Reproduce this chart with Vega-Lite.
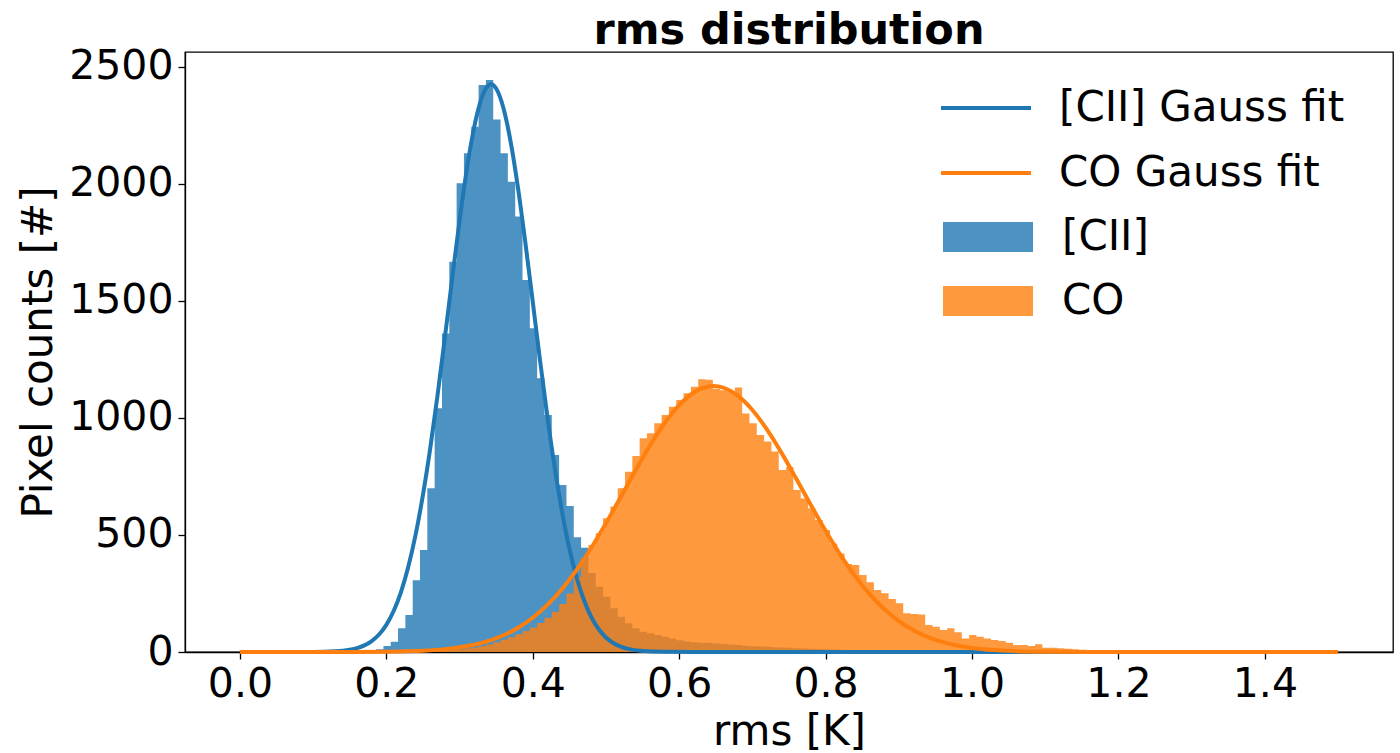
{
  "$schema": "https://vega.github.io/schema/vega-lite/v6.json",
  "width": 1208,
  "height": 600,
  "autosize": {"type": "none"},
  "padding": {"left": 185, "top": 52, "right": 7, "bottom": 101},
  "background": "white",
  "config": {
    "font": "DejaVu Sans",
    "view": {"stroke": "black", "strokeWidth": 1.3},
    "axis": {
      "grid": false,
      "domainColor": "black",
      "domainWidth": 1.3,
      "tickColor": "black",
      "tickWidth": 1.3,
      "tickSize": 7,
      "labelColor": "black",
      "labelFontSize": 41,
      "labelPadding": 5,
      "titleColor": "black",
      "titleFontSize": 42,
      "titleFontWeight": "normal"
    },
    "legend": {"padding": 0, "labelColor": "black", "labelFontSize": 42, "labelLimit": 600}
  },
  "title": {
    "text": "rms distribution",
    "fontSize": 43,
    "fontWeight": "bold",
    "color": "black",
    "anchor": "middle",
    "frame": "group",
    "baseline": "alphabetic",
    "offset": 0,
    "dy": 41
  },
  "datasets": {
    "hist": [
      {"series": "[CII]", "x0": 0.146, "count": 1},
      {"series": "[CII]", "x0": 0.156, "count": 1},
      {"series": "[CII]", "x0": 0.166, "count": 2},
      {"series": "[CII]", "x0": 0.176, "count": 5},
      {"series": "[CII]", "x0": 0.186, "count": 12},
      {"series": "[CII]", "x0": 0.196, "count": 26},
      {"series": "[CII]", "x0": 0.206, "count": 44},
      {"series": "[CII]", "x0": 0.216, "count": 101},
      {"series": "[CII]", "x0": 0.226, "count": 158},
      {"series": "[CII]", "x0": 0.236, "count": 307},
      {"series": "[CII]", "x0": 0.246, "count": 436},
      {"series": "[CII]", "x0": 0.256, "count": 699},
      {"series": "[CII]", "x0": 0.266, "count": 1041},
      {"series": "[CII]", "x0": 0.276, "count": 1361},
      {"series": "[CII]", "x0": 0.286, "count": 1667},
      {"series": "[CII]", "x0": 0.296, "count": 2002},
      {"series": "[CII]", "x0": 0.306, "count": 2130},
      {"series": "[CII]", "x0": 0.316, "count": 2244},
      {"series": "[CII]", "x0": 0.326, "count": 2422},
      {"series": "[CII]", "x0": 0.336, "count": 2443},
      {"series": "[CII]", "x0": 0.346, "count": 2275},
      {"series": "[CII]", "x0": 0.356, "count": 2130},
      {"series": "[CII]", "x0": 0.366, "count": 2009},
      {"series": "[CII]", "x0": 0.376, "count": 1860},
      {"series": "[CII]", "x0": 0.386, "count": 1589},
      {"series": "[CII]", "x0": 0.396, "count": 1383},
      {"series": "[CII]", "x0": 0.406, "count": 1169},
      {"series": "[CII]", "x0": 0.416, "count": 1012},
      {"series": "[CII]", "x0": 0.426, "count": 841},
      {"series": "[CII]", "x0": 0.436, "count": 713},
      {"series": "[CII]", "x0": 0.446, "count": 624},
      {"series": "[CII]", "x0": 0.456, "count": 490},
      {"series": "[CII]", "x0": 0.466, "count": 445},
      {"series": "[CII]", "x0": 0.476, "count": 337},
      {"series": "[CII]", "x0": 0.486, "count": 279},
      {"series": "[CII]", "x0": 0.496, "count": 236},
      {"series": "[CII]", "x0": 0.506, "count": 187},
      {"series": "[CII]", "x0": 0.516, "count": 151},
      {"series": "[CII]", "x0": 0.526, "count": 123},
      {"series": "[CII]", "x0": 0.536, "count": 101},
      {"series": "[CII]", "x0": 0.546, "count": 87},
      {"series": "[CII]", "x0": 0.556, "count": 80},
      {"series": "[CII]", "x0": 0.566, "count": 73},
      {"series": "[CII]", "x0": 0.576, "count": 65},
      {"series": "[CII]", "x0": 0.586, "count": 58},
      {"series": "[CII]", "x0": 0.596, "count": 50},
      {"series": "[CII]", "x0": 0.606, "count": 45},
      {"series": "[CII]", "x0": 0.616, "count": 42},
      {"series": "[CII]", "x0": 0.626, "count": 40},
      {"series": "[CII]", "x0": 0.636, "count": 38},
      {"series": "[CII]", "x0": 0.646, "count": 36},
      {"series": "[CII]", "x0": 0.656, "count": 34},
      {"series": "[CII]", "x0": 0.666, "count": 32},
      {"series": "[CII]", "x0": 0.676, "count": 30},
      {"series": "[CII]", "x0": 0.686, "count": 27},
      {"series": "[CII]", "x0": 0.696, "count": 25},
      {"series": "[CII]", "x0": 0.706, "count": 23},
      {"series": "[CII]", "x0": 0.716, "count": 22},
      {"series": "[CII]", "x0": 0.726, "count": 20},
      {"series": "[CII]", "x0": 0.736, "count": 19},
      {"series": "[CII]", "x0": 0.746, "count": 18},
      {"series": "[CII]", "x0": 0.756, "count": 16},
      {"series": "[CII]", "x0": 0.766, "count": 15},
      {"series": "[CII]", "x0": 0.776, "count": 14},
      {"series": "[CII]", "x0": 0.786, "count": 13},
      {"series": "[CII]", "x0": 0.796, "count": 12},
      {"series": "[CII]", "x0": 0.806, "count": 11},
      {"series": "[CII]", "x0": 0.816, "count": 10},
      {"series": "[CII]", "x0": 0.826, "count": 9},
      {"series": "[CII]", "x0": 0.836, "count": 9},
      {"series": "[CII]", "x0": 0.846, "count": 8},
      {"series": "[CII]", "x0": 0.856, "count": 7},
      {"series": "[CII]", "x0": 0.866, "count": 7},
      {"series": "[CII]", "x0": 0.876, "count": 6},
      {"series": "[CII]", "x0": 0.886, "count": 5},
      {"series": "[CII]", "x0": 0.896, "count": 5},
      {"series": "[CII]", "x0": 0.906, "count": 4},
      {"series": "[CII]", "x0": 0.916, "count": 4},
      {"series": "[CII]", "x0": 0.926, "count": 3},
      {"series": "[CII]", "x0": 0.936, "count": 3},
      {"series": "[CII]", "x0": 0.946, "count": 2},
      {"series": "[CII]", "x0": 0.956, "count": 2},
      {"series": "[CII]", "x0": 0.966, "count": 2},
      {"series": "[CII]", "x0": 0.976, "count": 1},
      {"series": "[CII]", "x0": 0.986, "count": 1},
      {"series": "[CII]", "x0": 0.996, "count": 1},
      {"series": "[CII]", "x0": 1.006, "count": 0},
      {"series": "CO", "x0": 0.206, "count": 1},
      {"series": "CO", "x0": 0.216, "count": 1},
      {"series": "CO", "x0": 0.226, "count": 2},
      {"series": "CO", "x0": 0.236, "count": 2},
      {"series": "CO", "x0": 0.246, "count": 3},
      {"series": "CO", "x0": 0.256, "count": 4},
      {"series": "CO", "x0": 0.266, "count": 5},
      {"series": "CO", "x0": 0.276, "count": 7},
      {"series": "CO", "x0": 0.286, "count": 9},
      {"series": "CO", "x0": 0.296, "count": 12},
      {"series": "CO", "x0": 0.306, "count": 15},
      {"series": "CO", "x0": 0.316, "count": 19},
      {"series": "CO", "x0": 0.326, "count": 25},
      {"series": "CO", "x0": 0.336, "count": 32},
      {"series": "CO", "x0": 0.346, "count": 42},
      {"series": "CO", "x0": 0.356, "count": 52},
      {"series": "CO", "x0": 0.366, "count": 63},
      {"series": "CO", "x0": 0.376, "count": 76},
      {"series": "CO", "x0": 0.386, "count": 90},
      {"series": "CO", "x0": 0.396, "count": 105},
      {"series": "CO", "x0": 0.406, "count": 124},
      {"series": "CO", "x0": 0.416, "count": 146},
      {"series": "CO", "x0": 0.426, "count": 172},
      {"series": "CO", "x0": 0.436, "count": 205},
      {"series": "CO", "x0": 0.446, "count": 250},
      {"series": "CO", "x0": 0.456, "count": 320},
      {"series": "CO", "x0": 0.466, "count": 400},
      {"series": "CO", "x0": 0.476, "count": 457},
      {"series": "CO", "x0": 0.486, "count": 507},
      {"series": "CO", "x0": 0.496, "count": 571},
      {"series": "CO", "x0": 0.506, "count": 621},
      {"series": "CO", "x0": 0.516, "count": 699},
      {"series": "CO", "x0": 0.526, "count": 770},
      {"series": "CO", "x0": 0.536, "count": 837},
      {"series": "CO", "x0": 0.546, "count": 913},
      {"series": "CO", "x0": 0.556, "count": 934},
      {"series": "CO", "x0": 0.566, "count": 977},
      {"series": "CO", "x0": 0.576, "count": 1012},
      {"series": "CO", "x0": 0.586, "count": 1048},
      {"series": "CO", "x0": 0.596, "count": 1076},
      {"series": "CO", "x0": 0.606, "count": 1105},
      {"series": "CO", "x0": 0.616, "count": 1133},
      {"series": "CO", "x0": 0.626, "count": 1165},
      {"series": "CO", "x0": 0.636, "count": 1163},
      {"series": "CO", "x0": 0.646, "count": 1125},
      {"series": "CO", "x0": 0.656, "count": 1118},
      {"series": "CO", "x0": 0.666, "count": 1112},
      {"series": "CO", "x0": 0.676, "count": 1130},
      {"series": "CO", "x0": 0.686, "count": 1019},
      {"series": "CO", "x0": 0.696, "count": 977},
      {"series": "CO", "x0": 0.706, "count": 927},
      {"series": "CO", "x0": 0.716, "count": 899},
      {"series": "CO", "x0": 0.726, "count": 856},
      {"series": "CO", "x0": 0.736, "count": 777},
      {"series": "CO", "x0": 0.746, "count": 790},
      {"series": "CO", "x0": 0.756, "count": 692},
      {"series": "CO", "x0": 0.766, "count": 656},
      {"series": "CO", "x0": 0.776, "count": 614},
      {"series": "CO", "x0": 0.786, "count": 564},
      {"series": "CO", "x0": 0.796, "count": 521},
      {"series": "CO", "x0": 0.806, "count": 464},
      {"series": "CO", "x0": 0.816, "count": 421},
      {"series": "CO", "x0": 0.826, "count": 376},
      {"series": "CO", "x0": 0.836, "count": 372},
      {"series": "CO", "x0": 0.846, "count": 329},
      {"series": "CO", "x0": 0.856, "count": 298},
      {"series": "CO", "x0": 0.866, "count": 265},
      {"series": "CO", "x0": 0.876, "count": 251},
      {"series": "CO", "x0": 0.886, "count": 226},
      {"series": "CO", "x0": 0.896, "count": 208},
      {"series": "CO", "x0": 0.906, "count": 165},
      {"series": "CO", "x0": 0.916, "count": 162},
      {"series": "CO", "x0": 0.926, "count": 160},
      {"series": "CO", "x0": 0.936, "count": 115},
      {"series": "CO", "x0": 0.946, "count": 108},
      {"series": "CO", "x0": 0.956, "count": 94},
      {"series": "CO", "x0": 0.966, "count": 101},
      {"series": "CO", "x0": 0.976, "count": 84},
      {"series": "CO", "x0": 0.986, "count": 58},
      {"series": "CO", "x0": 0.996, "count": 73},
      {"series": "CO", "x0": 1.006, "count": 65},
      {"series": "CO", "x0": 1.016, "count": 58},
      {"series": "CO", "x0": 1.026, "count": 51},
      {"series": "CO", "x0": 1.036, "count": 47},
      {"series": "CO", "x0": 1.046, "count": 40},
      {"series": "CO", "x0": 1.056, "count": 30},
      {"series": "CO", "x0": 1.066, "count": 30},
      {"series": "CO", "x0": 1.076, "count": 26},
      {"series": "CO", "x0": 1.086, "count": 33},
      {"series": "CO", "x0": 1.096, "count": 18},
      {"series": "CO", "x0": 1.106, "count": 18},
      {"series": "CO", "x0": 1.116, "count": 16},
      {"series": "CO", "x0": 1.126, "count": 14},
      {"series": "CO", "x0": 1.136, "count": 12},
      {"series": "CO", "x0": 1.146, "count": 10},
      {"series": "CO", "x0": 1.156, "count": 9},
      {"series": "CO", "x0": 1.166, "count": 8},
      {"series": "CO", "x0": 1.176, "count": 7},
      {"series": "CO", "x0": 1.186, "count": 6},
      {"series": "CO", "x0": 1.196, "count": 5},
      {"series": "CO", "x0": 1.206, "count": 5},
      {"series": "CO", "x0": 1.216, "count": 4},
      {"series": "CO", "x0": 1.226, "count": 4},
      {"series": "CO", "x0": 1.236, "count": 3},
      {"series": "CO", "x0": 1.246, "count": 3},
      {"series": "CO", "x0": 1.256, "count": 3},
      {"series": "CO", "x0": 1.266, "count": 2},
      {"series": "CO", "x0": 1.276, "count": 2},
      {"series": "CO", "x0": 1.286, "count": 2},
      {"series": "CO", "x0": 1.296, "count": 2},
      {"series": "CO", "x0": 1.306, "count": 1},
      {"series": "CO", "x0": 1.316, "count": 1},
      {"series": "CO", "x0": 1.326, "count": 1},
      {"series": "CO", "x0": 1.336, "count": 1},
      {"series": "CO", "x0": 1.346, "count": 1},
      {"series": "CO", "x0": 1.356, "count": 0},
      {"series": "CO", "x0": 1.376, "count": 1},
      {"series": "CO", "x0": 1.386, "count": 0},
      {"series": "CO", "x0": 1.406, "count": 1},
      {"series": "CO", "x0": 1.416, "count": 0}
    ],
    "fit": [
      {"series": "[CII] Gauss fit", "rms": 0.0, "count": 0},
      {"series": "[CII] Gauss fit", "rms": 0.1, "count": 0.4},
      {"series": "[CII] Gauss fit", "rms": 0.13, "count": 2.9},
      {"series": "[CII] Gauss fit", "rms": 0.15, "count": 9.6},
      {"series": "[CII] Gauss fit", "rms": 0.16, "count": 16.7},
      {"series": "[CII] Gauss fit", "rms": 0.17, "count": 28.4},
      {"series": "[CII] Gauss fit", "rms": 0.18, "count": 46.7},
      {"series": "[CII] Gauss fit", "rms": 0.19, "count": 74.8},
      {"series": "[CII] Gauss fit", "rms": 0.2, "count": 116},
      {"series": "[CII] Gauss fit", "rms": 0.21, "count": 175},
      {"series": "[CII] Gauss fit", "rms": 0.22, "count": 256},
      {"series": "[CII] Gauss fit", "rms": 0.23, "count": 364},
      {"series": "[CII] Gauss fit", "rms": 0.24, "count": 501},
      {"series": "[CII] Gauss fit", "rms": 0.25, "count": 671},
      {"series": "[CII] Gauss fit", "rms": 0.26, "count": 871},
      {"series": "[CII] Gauss fit", "rms": 0.27, "count": 1098},
      {"series": "[CII] Gauss fit", "rms": 0.28, "count": 1344},
      {"series": "[CII] Gauss fit", "rms": 0.29, "count": 1597},
      {"series": "[CII] Gauss fit", "rms": 0.3, "count": 1842},
      {"series": "[CII] Gauss fit", "rms": 0.31, "count": 2063},
      {"series": "[CII] Gauss fit", "rms": 0.32, "count": 2242},
      {"series": "[CII] Gauss fit", "rms": 0.33, "count": 2365},
      {"series": "[CII] Gauss fit", "rms": 0.337, "count": 2412},
      {"series": "[CII] Gauss fit", "rms": 0.343, "count": 2425},
      {"series": "[CII] Gauss fit", "rms": 0.35, "count": 2407},
      {"series": "[CII] Gauss fit", "rms": 0.36, "count": 2323},
      {"series": "[CII] Gauss fit", "rms": 0.37, "count": 2176},
      {"series": "[CII] Gauss fit", "rms": 0.38, "count": 1979},
      {"series": "[CII] Gauss fit", "rms": 0.39, "count": 1746},
      {"series": "[CII] Gauss fit", "rms": 0.4, "count": 1496},
      {"series": "[CII] Gauss fit", "rms": 0.41, "count": 1244},
      {"series": "[CII] Gauss fit", "rms": 0.42, "count": 1005},
      {"series": "[CII] Gauss fit", "rms": 0.43, "count": 787},
      {"series": "[CII] Gauss fit", "rms": 0.44, "count": 599},
      {"series": "[CII] Gauss fit", "rms": 0.45, "count": 442},
      {"series": "[CII] Gauss fit", "rms": 0.46, "count": 317},
      {"series": "[CII] Gauss fit", "rms": 0.47, "count": 221},
      {"series": "[CII] Gauss fit", "rms": 0.48, "count": 149},
      {"series": "[CII] Gauss fit", "rms": 0.49, "count": 97.7},
      {"series": "[CII] Gauss fit", "rms": 0.5, "count": 62.2},
      {"series": "[CII] Gauss fit", "rms": 0.51, "count": 38.4},
      {"series": "[CII] Gauss fit", "rms": 0.52, "count": 23.1},
      {"series": "[CII] Gauss fit", "rms": 0.53, "count": 13.4},
      {"series": "[CII] Gauss fit", "rms": 0.55, "count": 4.2},
      {"series": "[CII] Gauss fit", "rms": 0.58, "count": 0.6},
      {"series": "[CII] Gauss fit", "rms": 0.62, "count": 0},
      {"series": "[CII] Gauss fit", "rms": 1.5, "count": 0},
      {"series": "CO Gauss fit", "rms": 0.0, "count": 0},
      {"series": "CO Gauss fit", "rms": 0.15, "count": 0.3},
      {"series": "CO Gauss fit", "rms": 0.2, "count": 1.4},
      {"series": "CO Gauss fit", "rms": 0.25, "count": 5.7},
      {"series": "CO Gauss fit", "rms": 0.28, "count": 12.3},
      {"series": "CO Gauss fit", "rms": 0.3, "count": 19.9},
      {"series": "CO Gauss fit", "rms": 0.32, "count": 31.3},
      {"series": "CO Gauss fit", "rms": 0.34, "count": 47.9},
      {"series": "CO Gauss fit", "rms": 0.36, "count": 71.4},
      {"series": "CO Gauss fit", "rms": 0.38, "count": 103.6},
      {"series": "CO Gauss fit", "rms": 0.4, "count": 146.3},
      {"series": "CO Gauss fit", "rms": 0.42, "count": 201.2},
      {"series": "CO Gauss fit", "rms": 0.44, "count": 269.4},
      {"series": "CO Gauss fit", "rms": 0.46, "count": 350.9},
      {"series": "CO Gauss fit", "rms": 0.48, "count": 445.2},
      {"series": "CO Gauss fit", "rms": 0.5, "count": 549.7},
      {"series": "CO Gauss fit", "rms": 0.52, "count": 660.8},
      {"series": "CO Gauss fit", "rms": 0.54, "count": 773.4},
      {"series": "CO Gauss fit", "rms": 0.56, "count": 881},
      {"series": "CO Gauss fit", "rms": 0.58, "count": 977},
      {"series": "CO Gauss fit", "rms": 0.6, "count": 1054.8},
      {"series": "CO Gauss fit", "rms": 0.62, "count": 1108.5},
      {"series": "CO Gauss fit", "rms": 0.64, "count": 1134},
      {"series": "CO Gauss fit", "rms": 0.647, "count": 1136},
      {"series": "CO Gauss fit", "rms": 0.66, "count": 1129.5},
      {"series": "CO Gauss fit", "rms": 0.68, "count": 1095.2},
      {"series": "CO Gauss fit", "rms": 0.7, "count": 1033.8},
      {"series": "CO Gauss fit", "rms": 0.72, "count": 949.8},
      {"series": "CO Gauss fit", "rms": 0.74, "count": 849.5},
      {"series": "CO Gauss fit", "rms": 0.76, "count": 739.8},
      {"series": "CO Gauss fit", "rms": 0.78, "count": 627.1},
      {"series": "CO Gauss fit", "rms": 0.8, "count": 517.4},
      {"series": "CO Gauss fit", "rms": 0.82, "count": 415.7},
      {"series": "CO Gauss fit", "rms": 0.84, "count": 325},
      {"series": "CO Gauss fit", "rms": 0.86, "count": 247.4},
      {"series": "CO Gauss fit", "rms": 0.88, "count": 183.4},
      {"series": "CO Gauss fit", "rms": 0.9, "count": 132.3},
      {"series": "CO Gauss fit", "rms": 0.92, "count": 92.9},
      {"series": "CO Gauss fit", "rms": 0.94, "count": 63.5},
      {"series": "CO Gauss fit", "rms": 0.96, "count": 42.3},
      {"series": "CO Gauss fit", "rms": 0.98, "count": 27.4},
      {"series": "CO Gauss fit", "rms": 1.0, "count": 17.3},
      {"series": "CO Gauss fit", "rms": 1.03, "count": 8.2},
      {"series": "CO Gauss fit", "rms": 1.06, "count": 3.7},
      {"series": "CO Gauss fit", "rms": 1.1, "count": 1.2},
      {"series": "CO Gauss fit", "rms": 1.15, "count": 0.2},
      {"series": "CO Gauss fit", "rms": 1.2, "count": 0},
      {"series": "CO Gauss fit", "rms": 1.5, "count": 0}
    ]
  },
  "layer": [
    {
      "data": {"name": "hist"},
      "mark": {"type": "area", "interpolate": "step-after", "opacity": 0.8},
      "encoding": {
        "x": {
          "field": "x0",
          "type": "quantitative",
          "scale": {"domain": [-0.075, 1.575], "nice": false, "zero": false},
          "axis": {
            "values": [0, 0.2, 0.4, 0.6, 0.8, 1.0, 1.2, 1.4],
            "format": ".1f",
            "title": "rms [K]",
            "titleBaseline": "alphabetic",
            "titleY": 92
          }
        },
        "y": {
          "field": "count",
          "type": "quantitative",
          "stack": null,
          "scale": {"domain": [0, 2563], "nice": false},
          "axis": {
            "values": [0, 500, 1000, 1500, 2000, 2500],
            "format": "d",
            "title": "Pixel counts [#]",
            "titleAngle": -90,
            "titleBaseline": "middle",
            "titleX": -147,
            "titleY": 300
          }
        },
        "fill": {
          "field": "series",
          "type": "nominal",
          "scale": {"domain": ["[CII]", "CO"], "range": ["#1f77b4", "#ff7f0e"]},
          "legend": {
            "orient": "none",
            "legendX": 782,
            "legendY": 164,
            "title": null,
            "symbolType": "M-3,-1H3V1H-3Z",
            "symbolSize": 900,
            "symbolStrokeWidth": 0,
            "symbolOpacity": 0.8,
            "labelOffset": 53,
            "rowPadding": 22
          }
        }
      }
    },
    {
      "data": {"name": "fit"},
      "mark": {"type": "line", "strokeWidth": 4, "interpolate": "monotone"},
      "encoding": {
        "x": {"field": "rms", "type": "quantitative"},
        "y": {"field": "count", "type": "quantitative"},
        "stroke": {
          "field": "series",
          "type": "nominal",
          "scale": {"domain": ["[CII] Gauss fit", "CO Gauss fit"], "range": ["#1f77b4", "#ff7f0e"]},
          "legend": {
            "orient": "none",
            "legendX": 780,
            "legendY": 35,
            "title": null,
            "symbolType": "M-3,0H3",
            "symbolSize": 900,
            "symbolStrokeWidth": 4,
            "labelOffset": 52,
            "rowPadding": 23
          }
        }
      }
    }
  ]
}
